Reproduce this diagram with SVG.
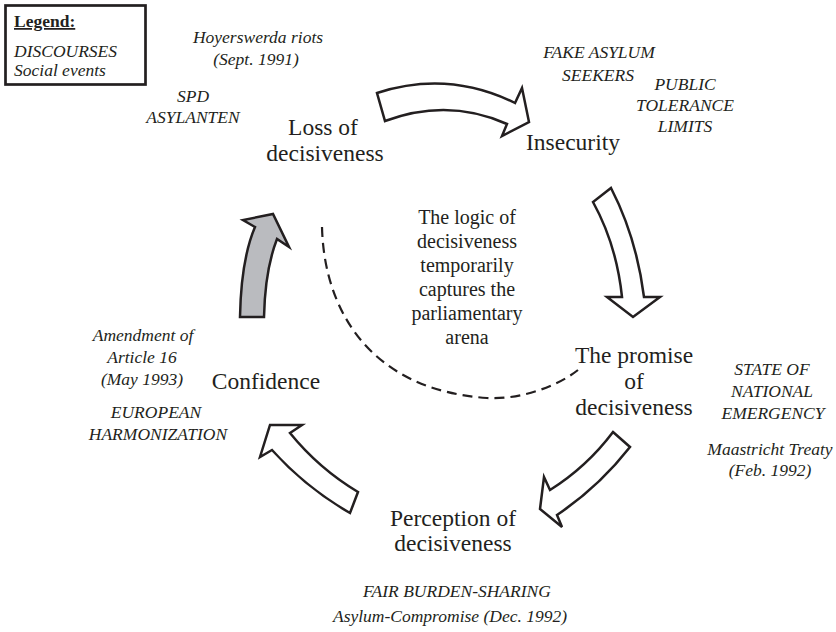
<svg xmlns="http://www.w3.org/2000/svg" width="836" height="632" viewBox="0 0 836 632">
<style>
text{font-family:"Liberation Serif","Times New Roman",serif;fill:#231f20}
.main{font-size:23.5px;text-anchor:middle}
.it{font-size:17.5px;font-style:italic;text-anchor:middle}
.ctr{font-size:20px;text-anchor:middle}
.arr{fill:#fff;stroke:#231f20;stroke-width:2.5;stroke-linejoin:miter}
.gray{fill:#babbbf}
.dash{fill:none;stroke:#231f20;stroke-width:2.2;stroke-dasharray:10 6}
</style>
<rect width="836" height="632" fill="#fff"/>
<g id="legend">
<rect x="5.5" y="5.5" width="140" height="79" fill="#fff" stroke="#231f20" stroke-width="2.7"/>
<text x="14" y="27" style="font-size:17.5px;font-weight:bold;text-decoration:underline">Legend:</text>
<text x="14" y="57" style="font-size:17.5px;font-style:italic">DISCOURSES</text>
<text x="14" y="76" style="font-size:17.5px;font-style:italic">Social events</text>
</g>
<g id="connectors">
<path class="arr" d="M377,93 Q448,70 515,103 L522,88 L529,122 L502,136 L507,124 Q448,97.5 385,121 Z"/>
<path class="arr" d="M611,188 Q636.5,237.5 644,297 L660,297 L633,317 L607,297 L622,297 Q616.5,244.5 593,202 Z"/>
<path class="arr" d="M613,432 L630,447 Q598.9,486.8 557,515 L562,527 L540,509 L544,477 L550,490 Q586.9,466.8 613,432 Z"/>
<path class="arr" d="M358,492 L350,513 Q306,487.7 272,450 L260,457 L270,425 L302,425 L290,433 Q318.8,468.5 358,492 Z"/>
<path class="arr gray" d="M240,317 L264,317 Q265,270 277,239 L289,247 L273,214 L243,220 L255,227 Q241,260 240,317 Z"/>
<path class="dash" d="M322,227 C324,310 370,390 487,398 C517,400 555,388 578,370"/>
</g>
<g id="loss">
<text class="main" x="323" y="135">Loss of</text>
<text class="main" x="325" y="161">decisiveness</text>
<text class="it" x="258" y="43">Hoyerswerda riots</text>
<text class="it" x="256" y="65">(Sept. 1991)</text>
<text class="it" x="193" y="102">SPD</text>
<text class="it" x="193" y="123">ASYLANTEN</text>
</g>
<g id="insecurity">
<text class="main" x="573" y="150">Insecurity</text>
<text class="it" x="599" y="58">FAKE ASYLUM</text>
<text class="it" x="598" y="81">SEEKERS</text>
<text class="it" x="685" y="90">PUBLIC</text>
<text class="it" x="685" y="111">TOLERANCE</text>
<text class="it" x="685" y="132">LIMITS</text>
</g>
<g id="promise">
<text class="main" x="634" y="363">The promise</text>
<text class="main" x="634" y="389">of</text>
<text class="main" x="634" y="415">decisiveness</text>
<text class="it" x="772" y="375">STATE OF</text>
<text class="it" x="772" y="397">NATIONAL</text>
<text class="it" x="773" y="419">EMERGENCY</text>
<text class="it" x="770" y="455">Maastricht Treaty</text>
<text class="it" x="770" y="476">(Feb. 1992)</text>
</g>
<g id="perception">
<text class="main" x="453" y="526">Perception of</text>
<text class="main" x="453" y="551">decisiveness</text>
<text class="it" x="457" y="597">FAIR BURDEN-SHARING</text>
<text class="it" x="450" y="622">Asylum-Compromise (Dec. 1992)</text>
</g>
<g id="confidence">
<text class="main" x="266" y="389">Confidence</text>
<text class="it" x="143" y="341">Amendment of</text>
<text class="it" x="142" y="363">Article 16</text>
<text class="it" x="142" y="385">(May 1993)</text>
<text class="it" x="156" y="418">EUROPEAN</text>
<text class="it" x="158" y="440">HARMONIZATION</text>
</g>
<g id="center">
<text class="ctr" x="467" y="224">The logic of</text>
<text class="ctr" x="467" y="248">decisiveness</text>
<text class="ctr" x="467" y="272">temporarily</text>
<text class="ctr" x="467" y="296">captures the</text>
<text class="ctr" x="467" y="320">parliamentary</text>
<text class="ctr" x="467" y="344">arena</text>
</g>
</svg>
